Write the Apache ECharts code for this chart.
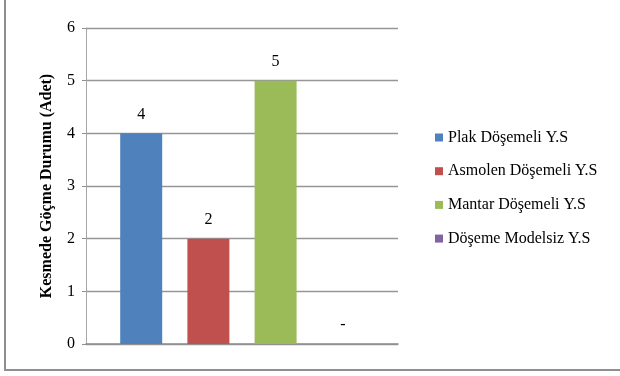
<!DOCTYPE html>
<html>
<head>
<meta charset="utf-8">
<script src="https://cdn.jsdelivr.net/npm/echarts@6/dist/echarts.min.js"></script>
<style>
  html, body { margin: 0; padding: 0; background: #fff; }
  #frame { position: relative; width: 620px; height: 376px; }
  #edge { position: absolute; left: 4px; top: 0; width: 620px; height: 371px;
          border-left: 2px solid #8f8f8f; border-bottom: 2px solid #8f8f8f; box-sizing: border-box; }
  #chart { position: absolute; left: 0; top: 0; width: 620px; height: 376px; }
</style>
</head>
<body>
<div id="frame">
  <div id="edge"></div>
  <div id="chart"></div>
</div>
<script>
// Structural systems and number of shear-collapse cases
const categories = [''];
const seriesNames = ['Plak Döşemeli Y.S', 'Asmolen Döşemeli Y.S', 'Mantar Döşemeli Y.S', 'Döşeme Modelsiz Y.S'];
const plakValues = [4];
const asmolenValues = [2];
const mantarValues = [5];
const modelsizValues = [0];
const yTicks = [0, 1, 2, 3, 4, 5, 6];
const colors = ['#4F81BD', '#C0504D', '#9BBB59', '#8064A2'];

const serif = 'Liberation Serif, Times New Roman, serif';
const allValues = [plakValues, asmolenValues, mantarValues, modelsizValues];

const chart = echarts.init(document.getElementById('chart'), null, { renderer: 'canvas' });
chart.setOption({
  animation: false,
  backgroundColor: 'transparent',
  grid: { left: 86, right: 222, top: 28, bottom: 32, containLabel: false },
  legend: {
    orient: 'vertical',
    left: 435,
    top: 129.5,
    padding: 0,
    icon: 'rect',
    itemWidth: 8,
    itemHeight: 8,
    itemGap: 17.7,
    data: seriesNames,
    textStyle: { fontFamily: serif, fontSize: 16, color: '#000', lineHeight: 16 }
  },
  xAxis: {
    type: 'category',
    data: categories,
    axisLine: { show: true, lineStyle: { color: '#8f8f8f', width: 1.5 } },
    axisTick: { show: false },
    axisLabel: { show: false },
    splitLine: { show: false }
  },
  yAxis: {
    type: 'value',
    min: yTicks[0],
    max: yTicks[yTicks.length - 1],
    interval: 1,
    name: 'Kesmede Göçme Durumu (Adet)',
    nameLocation: 'middle',
    nameGap: 31,
    nameTextStyle: { fontFamily: serif, fontSize: 16, fontWeight: 'bold', color: '#000' },
    axisLine: { show: true, lineStyle: { color: '#a6a6a6', width: 1 } },
    axisTick: { show: true, length: 4, lineStyle: { color: '#8f8f8f' } },
    axisLabel: { margin: 11, fontFamily: serif, fontSize: 16, color: '#000' },
    splitLine: { show: true, lineStyle: { color: '#969696', width: 1.3 } }
  },
  series: seriesNames.map((name, i) => ({
    name: name,
    type: 'bar',
    data: allValues[i],
    barWidth: 42,
    barGap: '60%',
    itemStyle: { color: colors[i] },
    label: {
      show: true,
      position: 'top',
      distance: 11,
      fontFamily: serif,
      fontSize: 16,
      color: '#000',
      formatter: p => (p.value === 0 ? '-' : String(p.value))
    }
  }))
});
</script>
</body>
</html>
